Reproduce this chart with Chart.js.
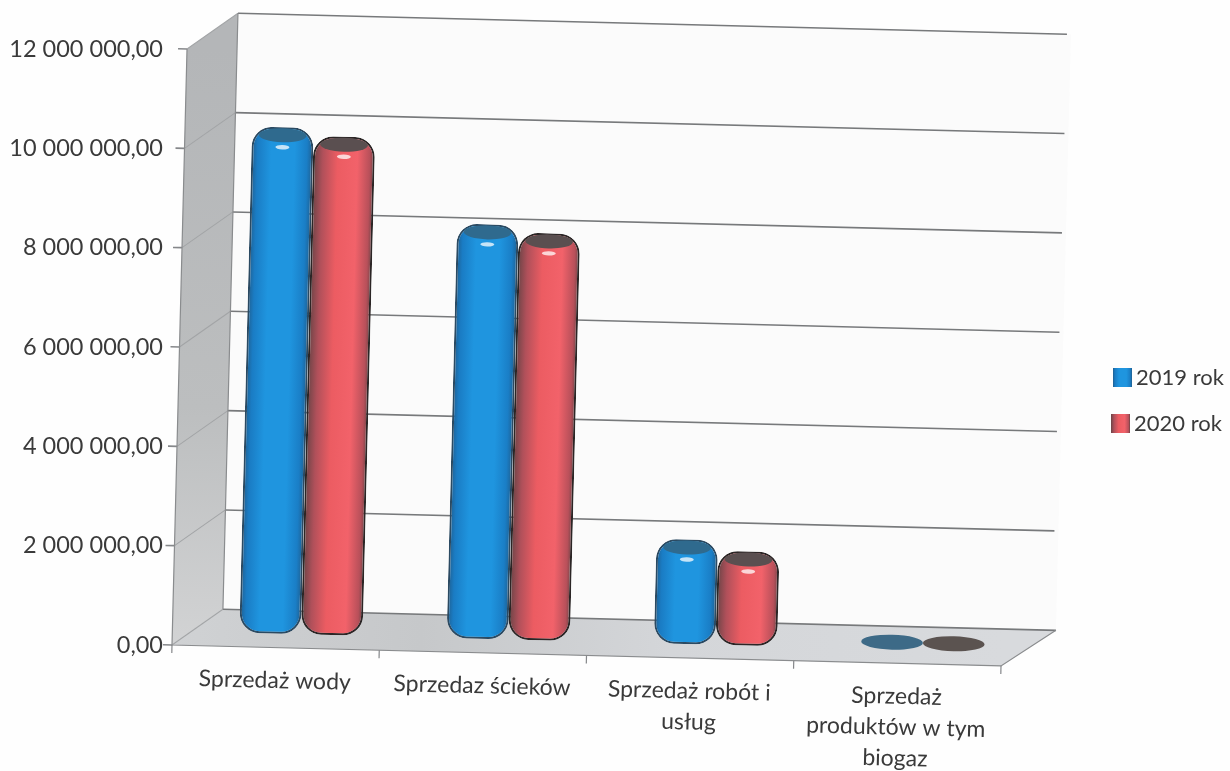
<!DOCTYPE html>
<html>
<head>
<meta charset="utf-8">
<style>
  html, body { margin: 0; padding: 0; background: #fefefe; }
  canvas { display: block; }
</style>
<script src="https://cdn.jsdelivr.net/npm/chart.js@4"></script>
</head>
<body>
<canvas id="chart" width="1230" height="771"></canvas>
<script>
const categories = [['Sprzedaż wody'], ['Sprzedaz ścieków'], ['Sprzedaż robót i', 'usług'], ['Sprzedaż', 'produktów w tym', 'biogaz']];
const values2019 = [9850000, 8000000, 1760000, 30000];
const values2020 = [9690000, 7850000, 1550000, 20000];
const seriesNames = ['2019 rok', '2020 rok'];
const yTickLabels = ['0,00', '2 000 000,00', '4 000 000,00', '6 000 000,00', '8 000 000,00', '10 000 000,00', '12 000 000,00'];

const fontName = 'Lato, sans-serif';
const textColor = '#3a3a3a';

// the scan leans a little, and the 3d box sits behind the front plane
const skewX = -0.0252;
const skewY = 0.0253;
const depthX = 50;
const depthY = -37;
const barShiftX = 25;
const barShiftY = -21;
// how far the round ends of a cylinder stick out past its value
const capTop = 10;
const capBottom = 7;

const blueStops = [[0, '#1f5f90'], [0.1, '#1a7cc4'], [0.32, '#1f95df'], [0.7, '#1f95df'], [0.9, '#1a7ec6'], [1, '#1f5f90']];
const redStops = [[0, '#6a4446'], [0.16, '#b0505a'], [0.4, '#ec5c62'], [0.72, '#f2626a'], [0.92, '#b8505a'], [1, '#6c4446']];
const seriesStyle = [
  { stops: blueStops, line: '#2b4a62', top: '#2f6a8e', flat: '#3d6a87' },
  { stops: redStops, line: '#2c2626', top: '#5a4f50', flat: '#5b5350' }
];

function leanFrame(ctx, area) {
  ctx.transform(1, skewY, skewX, 1, -skewX * area.bottom, -skewY * area.left);
}

function makeGradient(ctx, left, right, stops) {
  const g = ctx.createLinearGradient(left, 0, right, 0);
  stops.forEach(s => g.addColorStop(s[0], s[1]));
  return g;
}

const box3d = {
  id: 'box3d',
  beforeDatasetsDraw(chart) {
    const { ctx, chartArea: a, scales: { x, y } } = chart;
    ctx.save();
    leanFrame(ctx, a);

    // back wall
    ctx.fillStyle = '#fbfbfb';
    ctx.fillRect(a.left + depthX, a.top + depthY, a.width + 4, a.height);

    // left wall
    const wall = ctx.createLinearGradient(0, a.top, 0, a.bottom);
    wall.addColorStop(0, '#b4b6b8');
    wall.addColorStop(0.6, '#bcbebf');
    wall.addColorStop(1, '#d2d3d4');
    ctx.fillStyle = wall;
    ctx.beginPath();
    ctx.moveTo(a.left, a.bottom);
    ctx.lineTo(a.left, a.top);
    ctx.lineTo(a.left + depthX, a.top + depthY);
    ctx.lineTo(a.left + depthX, a.bottom + depthY);
    ctx.closePath();
    ctx.fill();

    // floor
    const floor = ctx.createLinearGradient(a.left, 0, a.right, 0);
    floor.addColorStop(0, '#d0d2d4');
    floor.addColorStop(0.3, '#c6c8ca');
    floor.addColorStop(0.6, '#d4d6d9');
    floor.addColorStop(1, '#d8dadd');
    ctx.fillStyle = floor;
    ctx.beginPath();
    ctx.moveTo(a.left, a.bottom);
    ctx.lineTo(a.right, a.bottom);
    ctx.lineTo(a.right + depthX + 4, a.bottom + depthY);
    ctx.lineTo(a.left + depthX, a.bottom + depthY);
    ctx.closePath();
    ctx.fill();

    // grid lines round the two walls, with the axis ticks
    y.ticks.forEach(t => {
      const py = y.getPixelForValue(t.value);
      ctx.beginPath();
      ctx.strokeStyle = '#a2a4a6';
      ctx.lineWidth = 1;
      ctx.moveTo(a.left, py);
      ctx.lineTo(a.left + depthX, py + depthY);
      ctx.stroke();
      ctx.beginPath();
      ctx.strokeStyle = '#77797b';
      ctx.lineWidth = 1.6;
      ctx.moveTo(a.left + depthX, py + depthY);
      ctx.lineTo(a.right + depthX + (t.value === 0 ? 4 : 0), py + depthY);
      ctx.stroke();
      ctx.beginPath();
      ctx.strokeStyle = '#85878a';
      ctx.moveTo(a.left - 9, py);
      ctx.lineTo(a.left, py);
      ctx.stroke();
    });

    // box edges
    ctx.strokeStyle = '#8a8c8e';
    ctx.lineWidth = 1.2;
    ctx.beginPath();
    ctx.moveTo(a.left, a.top);
    ctx.lineTo(a.left, a.bottom);
    ctx.lineTo(a.right, a.bottom);
    ctx.lineTo(a.right + depthX + 4, a.bottom + depthY);
    ctx.moveTo(a.left + depthX, a.top + depthY);
    ctx.lineTo(a.left + depthX, a.bottom + depthY);
    ctx.stroke();

    // x ticks and labels, leaning with the rest
    const step = a.width / categories.length;
    ctx.strokeStyle = '#85878a';
    ctx.lineWidth = 1.2;
    for (let i = 0; i <= categories.length; i++) {
      ctx.beginPath();
      ctx.moveTo(a.left + step * i, a.bottom);
      ctx.lineTo(a.left + step * i, a.bottom + 8);
      ctx.stroke();
    }
    ctx.fillStyle = textColor;
    ctx.font = '23px ' + fontName;
    ctx.textAlign = 'center';
    ctx.textBaseline = 'middle';
    x.getLabels().forEach((lines, i) => {
      lines.forEach((line, k) => {
        ctx.fillText(line, x.getPixelForValue(i), a.bottom + 33 + k * 31);
      });
    });

    // bars get drawn in the leaning frame, halfway into the box
    ctx.translate(barShiftX, barShiftY);
    chart.data.datasets.forEach((ds, di) => {
      const st = seriesStyle[di];
      chart.getDatasetMeta(di).data.forEach(el => {
        const flat = el.base - el.y < 12;
        const g = makeGradient(ctx, el.x - el.width / 2, el.x + el.width / 2, st.stops);
        el.options = Object.assign({}, el.options, {
          backgroundColor: flat ? 'transparent' : g,
          borderColor: flat ? 'transparent' : st.line
        });
        // stretch to the round ends just for this draw
        el.valueTop = el.y;
        el.valueBase = el.base;
        if (!flat) {
          el.y -= capTop;
          el.base += capBottom;
          el.height += capTop + capBottom;
        }
      });
    });
  },
  afterDatasetsDraw(chart) {
    const { ctx } = chart;
    chart.data.datasets.forEach((ds, di) => {
      const st = seriesStyle[di];
      chart.getDatasetMeta(di).data.forEach(el => {
        const flat = el.valueBase - el.valueTop < 12;
        if (!flat) el.height -= capTop + capBottom;
        el.y = el.valueTop;
        el.base = el.valueBase;
        if (flat) {
          ctx.fillStyle = st.flat;
          ctx.beginPath();
          ctx.ellipse(el.x, el.base, el.width / 2, 7.5, 0, 0, 2 * Math.PI);
          ctx.fill();
          return;
        }
        ctx.fillStyle = st.top;
        ctx.beginPath();
        ctx.ellipse(el.x, el.y - 2, el.width / 2 - 7, 7, 0, 0, 2 * Math.PI);
        ctx.fill();
        ctx.fillStyle = 'rgba(255,255,255,0.75)';
        ctx.beginPath();
        ctx.ellipse(el.x, el.y + 10, 7, 2.2, 0, 0, 2 * Math.PI);
        ctx.fill();
      });
    });
    ctx.restore();
  },
  afterDraw(chart) {
    // legend, the swatch sits too close to the text for the built in one
    const { ctx } = chart;
    const rows = [[1113, 378], [1111, 424]];
    ctx.save();
    ctx.font = '22px ' + fontName;
    ctx.textAlign = 'left';
    ctx.textBaseline = 'middle';
    chart.data.datasets.forEach((ds, di) => {
      const [lx, ly] = rows[di];
      ctx.fillStyle = makeGradient(ctx, lx, lx + 19, seriesStyle[di].stops);
      ctx.fillRect(lx, ly - 10, 19, 19);
      ctx.fillStyle = textColor;
      ctx.fillText(ds.label, lx + 23, ly);
    });
    ctx.restore();
  }
};

const cylinder = { borderWidth: 2, borderRadius: 20, borderSkipped: false, clip: false };

new Chart(document.querySelector('#chart').getContext('2d'), {
  type: 'bar',
  data: {
    labels: categories,
    datasets: [
      Object.assign({ label: seriesNames[0], data: values2019 }, cylinder),
      Object.assign({ label: seriesNames[1], data: values2020 }, cylinder)
    ]
  },
  options: {
    responsive: false,
    animation: false,
    layout: { padding: { top: 49, right: 229, bottom: 126, left: 0 } },
    categoryPercentage: 0.595,
    barPercentage: 1,
    plugins: { legend: { display: false }, tooltip: { enabled: false } },
    scales: {
      x: {
        afterFit(scale) { scale.height = 0; },
        grid: { display: false },
        border: { display: false },
        ticks: { display: false }
      },
      y: {
        min: 0,
        max: 12000000,
        afterFit(scale) { scale.width = 172; },
        grid: { display: false, drawTicks: false },
        border: { display: false },
        ticks: {
          stepSize: 2000000,
          padding: 9,
          color: textColor,
          font: { family: fontName, size: 23.5 },
          callback: (v, i) => yTickLabels[i]
        }
      }
    }
  },
  plugins: [box3d]
});
</script>
</body>
</html>
